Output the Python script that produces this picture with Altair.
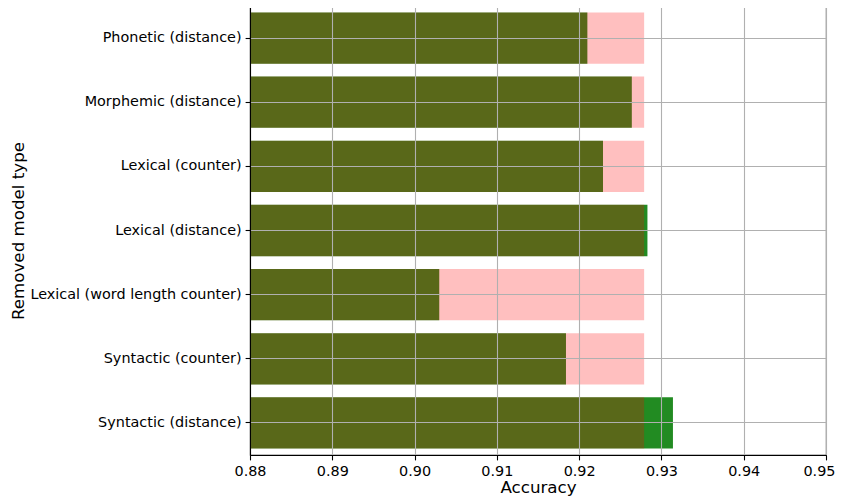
import altair as alt
import pandas as pd

categories = [
    "Phonetic (distance)",
    "Morphemic (distance)",
    "Lexical (counter)",
    "Lexical (distance)",
    "Lexical (word length counter)",
    "Syntactic (counter)",
    "Syntactic (distance)",
]
accuracy = [0.9210, 0.9264, 0.9229, 0.9283, 0.9030, 0.9184, 0.9314]
baseline = 0.9279
x_ticks = [0.88, 0.89, 0.90, 0.91, 0.92, 0.93, 0.94, 0.95]

df = pd.DataFrame({
    "category": categories,
    "accuracy": accuracy,
    "baseline": [baseline] * len(categories),
})

FONT = "DejaVu Sans"
LAST = "datum.value >= 0.949"

x_axis = alt.Axis(
    values=x_ticks, format=".2f", title="Accuracy",
    labelFont=FONT, labelFontSize=14.4, labelColor="black",
    titleFont=FONT, titleFontSize=16.7, titleFontWeight="normal", titleColor="black",
    tickSize=4.9, tickColor="black", tickWidth=1.1, labelPadding=5.0,
    labelFlush=False, labelOverlap=False,
    labelAlign={"condition": {"test": LAST, "value": "right"}, "value": "center"},
    labelOffset={"condition": {"test": LAST, "value": 9}, "value": 0},
    grid=True, gridColor="#b0b0b0", gridWidth=1.1,
    domain=True, domainColor="black", domainWidth=1.1,
    titleY=32, titleBaseline="middle",
    zindex=1,
)
y_axis = alt.Axis(
    title="Removed model type",
    labelFont=FONT, labelFontSize=14.4, labelColor="black",
    titleFont=FONT, titleFontSize=16.7, titleFontWeight="normal", titleColor="black",
    tickSize=4.9, tickColor="black", tickWidth=1.1, labelPadding=4.0,
    grid=True, gridColor="#b0b0b0", gridWidth=1.1, bandPosition=0.5,
    domain=True, domainColor="black", domainWidth=1.1,
    titleX=-232, titleY=224.5, titleAlign="center", titleBaseline="middle", titleAngle=270,
    labelLimit=400,
    zindex=1,
)

y_enc = alt.Y("category:N", sort=categories,
              scale=alt.Scale(paddingInner=0.2, paddingOuter=0.1), axis=y_axis)
x_scale = alt.Scale(domain=[0.88, 0.95], zero=False, nice=False)

green = alt.Chart(df).mark_bar(color="#228b22").encode(
    y=y_enc,
    x=alt.X("accuracy:Q", scale=x_scale, axis=x_axis),
    x2=alt.datum(0.88),
)
red = alt.Chart(df).mark_bar(color="#ff0000", opacity=0.25).encode(
    y=y_enc,
    x=alt.X("baseline:Q", scale=x_scale, axis=x_axis),
    x2=alt.datum(0.88),
)

chart = alt.layer(green, red).properties(
    width=576, height=449,
    autosize=alt.AutoSizeParams(type="none"),
    padding={"left": 242, "top": -2, "right": 9, "bottom": 42},
).configure_view(stroke="black", strokeWidth=1.1)

chart.save("out.html", embed_options={"renderer": "svg", "actions": False})
